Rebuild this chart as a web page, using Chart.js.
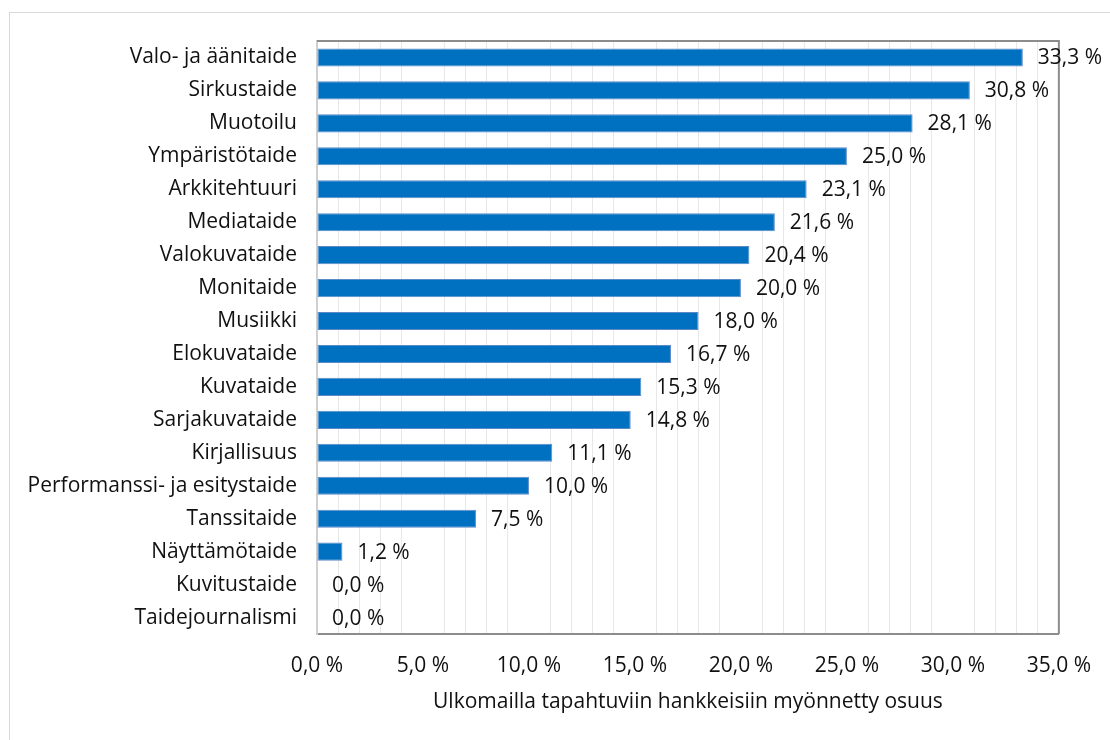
<!DOCTYPE html>
<html>
<head>
<meta charset="utf-8">
<script src="https://cdn.jsdelivr.net/npm/chart.js@4.4.1/dist/chart.umd.min.js"></script>
<style>
  html, body { margin: 0; padding: 0; background: #fff; overflow: hidden; }
  #frame { position: absolute; left: 9px; top: 12px; width: 1200px; height: 800px; border: 1px solid #d9d9d9; }
  #wrap { position: absolute; left: 0; top: 0; width: 1110px; height: 740px; }
</style>
</head>
<body>
<div id="frame"></div>
<div id="wrap"><canvas id="chart"></canvas></div>
<script>
const categories = [
    'Valo- ja äänitaide', 'Sirkustaide', 'Muotoilu', 'Ympäristötaide', 'Arkkitehtuuri',
    'Mediataide', 'Valokuvataide', 'Monitaide', 'Musiikki', 'Elokuvataide', 'Kuvataide',
    'Sarjakuvataide', 'Kirjallisuus', 'Performanssi- ja esitystaide', 'Tanssitaide',
    'Näyttämötaide', 'Kuvitustaide', 'Taidejournalismi'
];
const shares = [33.3, 30.8, 28.1, 25.0, 23.1, 21.6, 20.4, 20.0, 18.0, 16.7, 15.3, 14.8, 11.1, 10.0, 7.5, 1.2, 0.0, 0.0];
const xTicksMin = 0, xTicksMax = 35, xTickStep = 5;
const axisTitle = 'Ulkomailla tapahtuviin hankkeisiin myönnetty osuus';

const fmt = v => v.toFixed(1).replace('.', ',') + ' %';
const FONT = '"Open Sans"';
const FSIZE = 21;

// value labels to the right of bars, plus top/right plot border
const barLabels = {
    id: 'barLabels',
    beforeDatasetsDraw(chart) {
        const a = chart.chartArea, c = chart.ctx;
        c.save();
        c.strokeStyle = '#8c8c8c';
        c.lineWidth = 2;
        c.beginPath();
        c.moveTo(a.left, a.top);
        c.lineTo(a.right, a.top);
        c.lineTo(a.right, a.bottom);
        c.stroke();
        c.restore();
    },
    afterDatasetsDraw(chart) {
        const c = chart.ctx;
        const meta = chart.getDatasetMeta(0);
        c.save();
        c.font = FSIZE + 'px ' + FONT;
        c.fillStyle = '#111';
        c.textBaseline = 'middle';
        c.textAlign = 'left';
        meta.data.forEach((bar, i) => {
            c.fillText(fmt(shares[i]), bar.x + 15, bar.y + 1);
        });
        c.restore();
    }
};

const ctx = document.getElementById('chart').getContext('2d');
const chart = new Chart(ctx, {
    type: 'bar',
    data: {
        labels: categories,
        datasets: [{
            data: shares,
            backgroundColor: '#0070c0',
            borderColor: '#5b8ac6',
            borderWidth: 1,
            borderSkipped: false,
            barPercentage: 0.55,
            categoryPercentage: 1.0
        }]
    },
    options: {
        indexAxis: 'y',
        responsive: true,
        maintainAspectRatio: false,
        animation: false,
        layout: { padding: { left: 0, right: 49, top: 41, bottom: 0 } },
        plugins: {
            legend: { display: false },
            tooltip: { enabled: false }
        },
        scales: {
            x: {
                min: xTicksMin,
                max: xTicksMax,
                afterFit: s => { s.height = 106; },
                ticks: {
                    stepSize: 1,
                    autoSkip: false,
                    maxRotation: 0,
                    padding: 19,
                    color: '#111',
                    font: { family: FONT, size: FSIZE },
                    callback: v => (v % xTickStep === 0 ? fmt(v) : '')
                },
                grid: {
                    drawTicks: false,
                    lineWidth: 1,
                    color: c => (c.tick && c.tick.value % xTickStep === 0 ? 'rgba(0,0,0,0)' : '#e8e8e8')
                },
                border: { color: '#8c8c8c', width: 2 },
                title: {
                    display: true,
                    text: axisTitle,
                    color: '#111',
                    font: { family: FONT, size: FSIZE },
                    padding: { top: 0, bottom: 25 }
                }
            },
            y: {
                afterFit: s => { s.width = 317; },
                ticks: {
                    color: '#111',
                    padding: 20,
                    font: { family: FONT, size: FSIZE }
                },
                grid: { display: false, drawTicks: false },
                border: { color: '#d0d0d0', width: 2 }
            }
        }
    },
    plugins: [barLabels]
});
</script>
</body>
</html>
